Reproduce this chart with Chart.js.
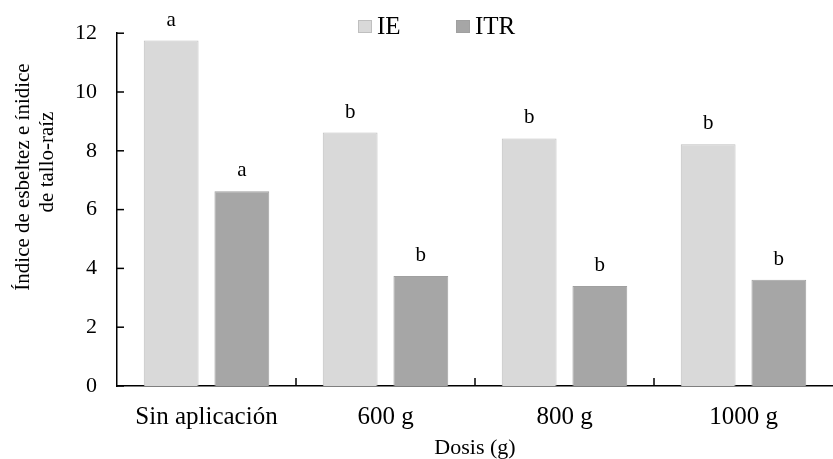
<!DOCTYPE html>
<html>
<head>
<meta charset="utf-8">
<script src="https://cdn.jsdelivr.net/npm/chart.js@4"></script>
<style>
  html, body { margin: 0; padding: 0; background: #fff; }
  #wrap { width: 833px; height: 459px; }
</style>
</head>
<body>
<div id="wrap"><canvas id="chart"></canvas></div>
<script>
const categories = ['Sin aplicación', '600 g', '800 g', '1000 g'];
const ieValues = [11.75, 8.62, 8.42, 8.22];
const itrValues = [6.62, 3.74, 3.4, 3.61];
const ieLetters = ['a', 'b', 'b', 'b'];
const itrLetters = ['a', 'b', 'b', 'b'];
const yTicks = [0, 2, 4, 6, 8, 10, 12];

const serif = "'Liberation Serif', 'Times New Roman', serif";

// letters above bars, inward ticks, legend and y title
const extras = {
    id: 'extras',
    afterDatasetsDraw: (chart) => {
        const ctx = chart.ctx;
        const lettersBySet = [ieLetters, itrLetters];
        ctx.save();
        ctx.fillStyle = '#000';
        ctx.font = '21px ' + serif;
        ctx.textAlign = 'center';
        ctx.textBaseline = 'alphabetic';
        chart.data.datasets.forEach((ds, d) => {
            chart.getDatasetMeta(d).data.forEach((bar, i) => {
                ctx.fillText(lettersBySet[d][i], bar.x, bar.y - 15);
            });
        });
        ctx.restore();
    },
    afterDraw: (chart) => {
        const ctx = chart.ctx;
        const y = chart.scales.y;
        const area = chart.chartArea;
        ctx.save();
        ctx.strokeStyle = '#000';
        ctx.lineWidth = 1.5;
        // y ticks pointing right
        yTicks.forEach((v) => {
            const py = y.getPixelForValue(v);
            ctx.beginPath();
            ctx.moveTo(area.left, py);
            ctx.lineTo(area.left + 7, py);
            ctx.stroke();
        });
        // x ticks pointing up at category boundaries
        const step = (area.right - area.left) / categories.length;
        for (let i = 1; i < categories.length; i++) {
            const px = area.left + step * i;
            ctx.beginPath();
            ctx.moveTo(px, area.bottom);
            ctx.lineTo(px, area.bottom - 8);
            ctx.stroke();
        }
        // legend
        const legendX = [358, 456];
        ctx.font = '25px ' + serif;
        ctx.textAlign = 'left';
        ctx.textBaseline = 'alphabetic';
        chart.data.datasets.forEach((ds, d) => {
            ctx.fillStyle = ds.backgroundColor;
            ctx.fillRect(legendX[d], 20, 14, 13);
            ctx.strokeStyle = ds.borderColor;
            ctx.lineWidth = 1;
            ctx.strokeRect(legendX[d] + 0.5, 20.5, 13, 12);
            ctx.fillStyle = '#000';
            ctx.fillText(ds.label, legendX[d] + 19, 34);
        });
        // y axis title
        ctx.font = '21px ' + serif;
        ctx.textAlign = 'center';
        ctx.textBaseline = 'middle';
        ctx.translate(23, 177);
        ctx.rotate(-Math.PI / 2);
        ctx.fillText('Índice de esbeltez e ínidice', 0, 0);
        ctx.fillText('de tallo-raíz', 15, 24);
        ctx.restore();
    }
};

new Chart(document.getElementById('chart'), {
    type: 'bar',
    data: {
        labels: categories,
        datasets: [
            {
                label: 'IE',
                data: ieValues,
                backgroundColor: '#d9d9d9',
                borderColor: '#bfbfbf',
                borderWidth: 1,
                categoryPercentage: 0.79,
                barPercentage: 0.775
            },
            {
                label: 'ITR',
                data: itrValues,
                backgroundColor: '#a6a6a6',
                borderColor: '#a0a0a0',
                borderWidth: 1,
                categoryPercentage: 0.79,
                barPercentage: 0.775
            }
        ]
    },
    options: {
        responsive: true,
        maintainAspectRatio: false,
        animation: false,
        layout: { padding: { top: 33, left: 0, right: 0, bottom: 0 } },
        plugins: {
            legend: { display: false },
            tooltip: { enabled: false }
        },
        scales: {
            x: {
                grid: { display: false, drawTicks: false },
                border: { display: true, color: '#000', width: 1.5 },
                ticks: { color: '#000', font: { family: serif, size: 25 }, padding: 16 },
                title: {
                    display: true,
                    text: 'Dosis (g)',
                    color: '#000',
                    font: { family: serif, size: 22 },
                    padding: { top: 0, bottom: -2 }
                },
                afterFit: (scale) => { scale.height = 73; }
            },
            y: {
                min: 0,
                max: 12,
                grid: { display: false, drawTicks: false },
                border: { display: true, color: '#000', width: 1.5 },
                ticks: {
                    stepSize: 2,
                    color: '#000',
                    font: { family: serif, size: 22 },
                    padding: 20
                },
                afterFit: (scale) => { scale.width = 117; }
            }
        }
    },
    plugins: [extras]
});
</script>
</body>
</html>
